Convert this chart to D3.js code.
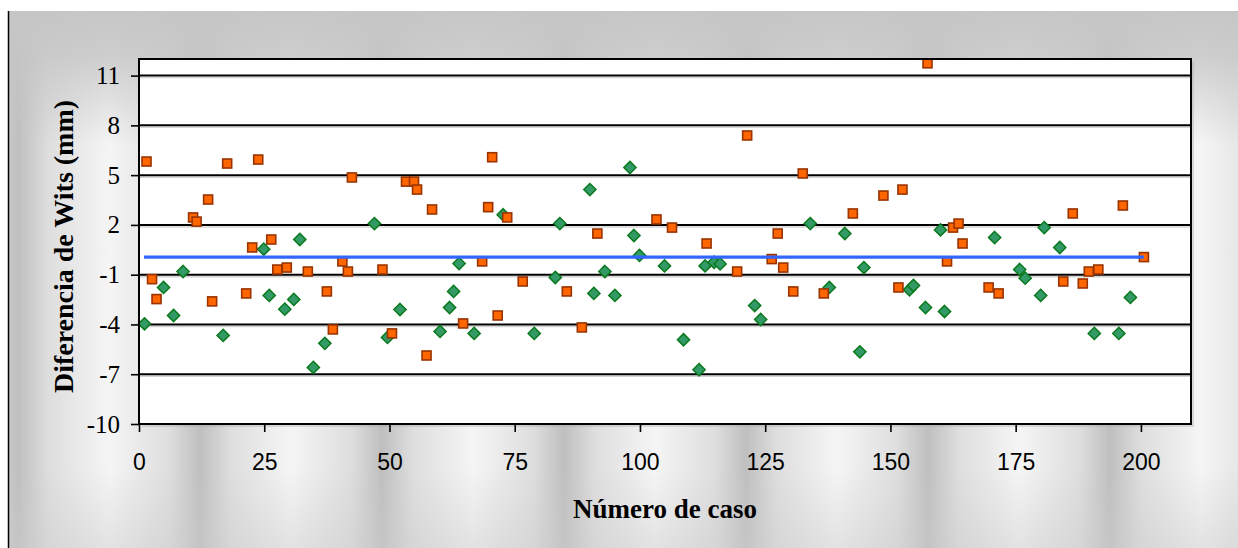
<!DOCTYPE html>
<html>
<head>
<meta charset="utf-8">
<script src="https://cdn.jsdelivr.net/npm/d3@7"></script>
<style>
  html, body { margin: 0; padding: 0; background: #ffffff; }
  svg { display: block; }
</style>
</head>
<body>
<div class="chart"></div>
<script>

var orangeCases = [1.5, 2.6, 3.5, 10.8, 11.5, 13.8, 14.6, 17.6, 21.4, 22.6, 23.8, 26.4, 27.6, 29.5, 33.7,
  37.5, 38.7, 40.6, 41.7, 42.5, 48.6, 50.5, 53.3, 54.9, 55.5, 57.4, 58.5, 64.7, 68.5, 69.7, 70.5, 71.6,
  73.5, 76.6, 85.4, 88.4, 91.5, 103.3, 106.4, 113.3, 119.4, 121.4, 126.3, 127.5, 128.6, 130.6, 132.5,
  136.7, 142.5, 148.6, 151.6, 152.4, 157.4, 161.3, 162.5, 163.6, 164.4, 169.6, 171.6, 184.5, 186.4,
  188.4, 189.6, 191.5, 196.4, 200.6];
var orangeValues = [5.82, -1.27, -2.47, 2.45, 2.2, 3.53, -2.61, 5.7, -2.13, 0.64, 5.94, 1.12, -0.69, -0.57, -0.81,
  -2.01, -4.3, -0.2, -0.81, 4.86, -0.69, -4.54, 4.61, 4.61, 4.13, -5.87, 2.93, -3.94, -0.2, 3.07, 6.08, -3.46,
  2.45, -1.41, -2.01, -4.18, 1.48, 2.33, 1.84, 0.88, -0.81, 7.39, -0.06, 1.48, -0.57, -2.01, 5.1,
  -2.13, 2.69, 3.77, -1.77, 4.13, 11.74, -0.2, 1.84, 2.08, 0.88, -1.77, -2.13, -1.41, 2.69,
  -1.53, -0.81, -0.69, 3.17, 0.06];

var greenCases = [1.1, 4.9, 6.9, 8.8, 16.8, 24.9, 26.0, 29.1, 30.9, 32.1, 34.8, 37.1, 47.0, 49.6, 52.1,
  60.1, 62.0, 62.8, 63.9, 66.9, 72.7, 78.9, 83.1, 84.0, 90.0, 90.8, 93.0, 95.0, 98.0, 98.8, 99.9,
  104.9, 108.7, 111.8, 113.0, 114.8, 116.0, 122.9, 124.1, 134.0, 137.8, 140.9, 143.9, 144.7, 153.8,
  154.6, 157.0, 160.0, 160.8, 170.8, 175.8, 176.9, 180.0, 180.7, 183.8, 190.7, 195.6, 197.9];
var greenValues = [-3.96, -1.77, -3.46, -0.81, -4.66, 0.54, -2.25, -3.08, -2.49, 1.12, -6.59, -5.14, 2.08, -4.78, -3.1,
  -4.42, -2.98, -2.01, -0.33, -4.54, 2.61, -4.54, -1.17, 2.08, 4.13, -2.13, -0.81, -2.25, 5.46, 1.36, 0.16,
  -0.47, -4.92, -6.73, -0.47, -0.25, -0.35, -2.86, -3.7, 2.08, -1.77, 1.48, -5.65, -0.57, -1.91,
  -1.65, -2.98, 1.7, -3.22, 1.24, -0.69, -1.21, -2.25, 1.84, 0.64, -4.54, -4.54, -2.37];

var meanCases = [1, 200.6];
var meanValues = [0.06, 0.06];

var xTicks = [0, 25, 50, 75, 100, 125, 150, 175, 200];
var yTicks = [-10, -7, -4, -1, 2, 5, 8, 11];

var svgWidth = 1238;
var svgHeight = 548;

var plot = { left: 139, right: 1191, top: 59, bottom: 424 };

var svg = d3
  .select(".chart")
  .append("svg")
  .attr("width", svgWidth)
  .attr("height", svgHeight);

var defs = svg.append("defs");

var bands = defs.append("linearGradient")
  .attr("id", "bands")
  .attr("gradientUnits", "userSpaceOnUse")
  .attr("x1", 109).attr("x2", 291).attr("y1", 0).attr("y2", 0)
  .attr("spreadMethod", "repeat");
[[0, "#f5f5f5"], [0.33, "#dedede"], [0.5, "#bfbfbf"], [0.67, "#dedede"], [1, "#f5f5f5"]].forEach(function(s) {
  bands.append("stop").attr("offset", s[0]).attr("stop-color", s[1]);
});

var topShade = defs.append("linearGradient")
  .attr("id", "topShade")
  .attr("gradientUnits", "userSpaceOnUse")
  .attr("x1", 0).attr("x2", 0).attr("y1", 11).attr("y2", 548);
[[0, "#c6c6c6", 1], [0.08, "#c6c6c6", 0.85], [0.25, "#c6c6c6", 0], [0.85, "#cccccc", 0], [1, "#cccccc", 0.45]].forEach(function(s) {
  topShade.append("stop").attr("offset", s[0]).attr("stop-color", s[1]).attr("stop-opacity", s[2]);
});

svg.append("rect")
  .attr("x", 9).attr("y", 11)
  .attr("width", svgWidth - 9).attr("height", svgHeight - 11)
  .attr("fill", "url(#bands)");

svg.append("rect")
  .attr("x", 9).attr("y", 11)
  .attr("width", svgWidth - 9).attr("height", svgHeight - 11)
  .attr("fill", "url(#topShade)");

svg.append("line")
  .attr("x1", 8.5).attr("x2", 8.5).attr("y1", 11).attr("y2", svgHeight)
  .attr("stroke", "#000").attr("stroke-width", 1.5);

var xScale = d3.scaleLinear().domain([0, 210]).range([plot.left, plot.right]);
var yScale = d3.scaleLinear().domain([-10, 12]).range([plot.bottom, plot.top]);

// plot area shadow + background
svg.append("rect")
  .attr("x", plot.left + 3).attr("y", plot.top + 3)
  .attr("width", plot.right - plot.left).attr("height", plot.bottom - plot.top)
  .attr("fill", "#9a9a9a").attr("opacity", 0.3);

svg.append("rect")
  .attr("x", plot.left).attr("y", plot.top)
  .attr("width", plot.right - plot.left).attr("height", plot.bottom - plot.top)
  .attr("fill", "#ffffff");

var grid = svg.append("g");

grid.selectAll("line.shadow")
  .data(yTicks.filter(function(d) { return d > -10; }))
  .enter()
  .append("line")
  .attr("class", "shadow")
  .attr("x1", plot.left).attr("x2", plot.right)
  .attr("y1", function(d) { return yScale(d) + 2; })
  .attr("y2", function(d) { return yScale(d) + 2; })
  .attr("stroke", "#d4d4d4").attr("stroke-width", 1.5);

grid.selectAll("line.major")
  .data(yTicks.filter(function(d) { return d > -10; }))
  .enter()
  .append("line")
  .attr("class", "major")
  .attr("x1", plot.left).attr("x2", plot.right)
  .attr("y1", function(d) { return yScale(d); })
  .attr("y2", function(d) { return yScale(d); })
  .attr("stroke", "#000").attr("stroke-width", 2);

var diamond = d3.symbol().type(d3.symbolDiamond2).size(95);

var greenData = greenCases.map(function(c, i) { return { x: c, y: greenValues[i] }; });
var orangeData = orangeCases.map(function(c, i) { return { x: c, y: orangeValues[i] }; });

svg.append("g")
  .selectAll("path")
  .data(greenData)
  .enter()
  .append("path")
  .attr("d", diamond)
  .attr("transform", function(d) { return "translate(" + xScale(d.x) + "," + yScale(d.y) + ")"; })
  .attr("fill", "#339966")
  .attr("stroke", "#0b7a1e")
  .attr("stroke-width", 1.5);

svg.append("g")
  .selectAll("rect")
  .data(orangeData)
  .enter()
  .append("rect")
  .attr("x", function(d) { return xScale(d.x) - 4.5; })
  .attr("y", function(d) { return yScale(d.y) - 4.5; })
  .attr("width", 9)
  .attr("height", 9)
  .attr("fill", "#ff6600")
  .attr("stroke", "#993300")
  .attr("stroke-width", 1.6);

var meanLine = d3.line()
  .x(function(d) { return xScale(d[0]); })
  .y(function(d) { return yScale(d[1]); });

svg.append("path")
  .datum(d3.zip(meanCases, meanValues))
  .attr("d", meanLine)
  .attr("fill", "none")
  .attr("stroke", "#3366ff")
  .attr("stroke-width", 3.3);

svg.append("rect")
  .attr("x", plot.left).attr("y", plot.top)
  .attr("width", plot.right - plot.left).attr("height", plot.bottom - plot.top)
  .attr("fill", "none")
  .attr("stroke", "#000")
  .attr("stroke-width", 2);

var leftAxis = d3.axisLeft(yScale)
  .tickValues(yTicks)
  .tickFormat(function(d) { return String(d); })
  .tickSize(8)
  .tickPadding(11);
var bottomAxis = d3.axisBottom(xScale)
  .tickValues(xTicks)
  .tickFormat(function(d) { return String(d); })
  .tickSize(8)
  .tickPadding(22);

var yAxisG = svg.append("g")
  .attr("transform", "translate(" + plot.left + ",0)")
  .call(leftAxis);
yAxisG.select(".domain").remove();
yAxisG.selectAll("line").attr("stroke", "#000").attr("stroke-width", 1.6);
yAxisG.selectAll("text")
  .attr("fill", "#000")
  .style("font-family", "'Liberation Serif', 'Times New Roman', serif")
  .style("font-size", "25px");

var xAxisG = svg.append("g")
  .attr("transform", "translate(0," + plot.bottom + ")")
  .call(bottomAxis);
xAxisG.select(".domain").remove();
xAxisG.selectAll("line").attr("stroke", "#000").attr("stroke-width", 1.6);
xAxisG.selectAll("text")
  .attr("fill", "#000")
  .style("font-family", "'Liberation Sans', Arial, sans-serif")
  .style("font-size", "23px");

svg.append("text")
  .attr("x", (plot.left + plot.right) / 2)
  .attr("y", 518)
  .attr("text-anchor", "middle")
  .style("font-family", "'Liberation Serif', 'Times New Roman', serif")
  .style("font-weight", "bold")
  .style("font-size", "27px")
  .text("Número de caso");

svg.append("text")
  .attr("transform", "translate(73," + 246.5 + ") rotate(-90)")
  .attr("text-anchor", "middle")
  .style("font-family", "'Liberation Serif', 'Times New Roman', serif")
  .style("font-weight", "bold")
  .style("font-size", "28px")
  .text("Diferencia de Wits (mm)");

</script>
</body>
</html>
